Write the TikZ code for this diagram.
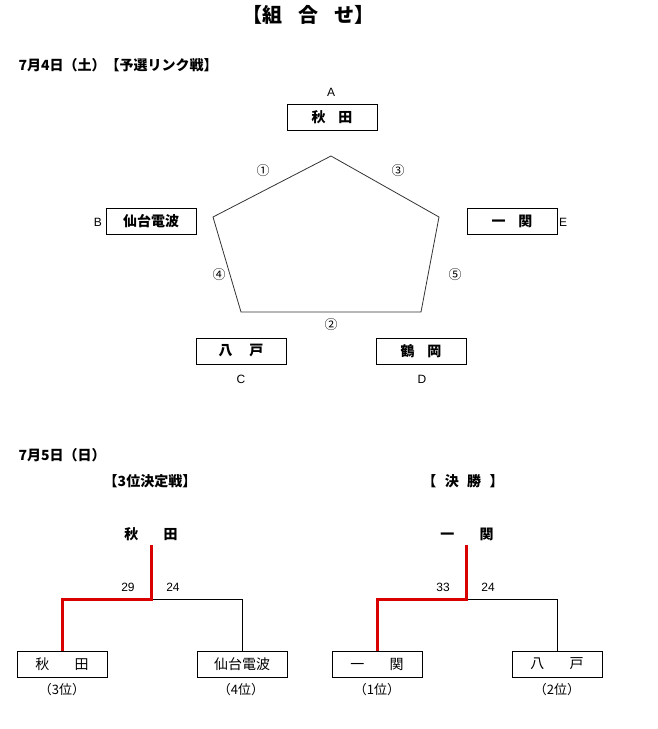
\documentclass[tikz,border=0pt]{standalone}
\usepackage{fontspec}
\setmainfont{Noto Sans CJK JP}
\newfontfamily\latin{Liberation Sans}
\begin{document}
\begin{tikzpicture}[
  x=1pt, y=-1pt,
  line width=1pt,
  every node/.style = {inner sep=0pt, align=center},
  teambox/.style = {draw, minimum width=90pt, minimum height=26pt,
    font=\fontsize{14}{14}\selectfont\bfseries},
  plainbox/.style = {draw, minimum width=90pt, minimum height=26pt,
    font=\fontsize{14}{14}\selectfont},
  letter/.style = {font=\latin\fontsize{12}{12}\selectfont},
  game/.style = {font=\fontsize{13}{13}\selectfont},
  score/.style = {font=\latin\fontsize{12}{12}\selectfont},
  rank/.style = {font=\fontsize{13}{13}\selectfont},
  heading/.style = {font=\fontsize{14}{14}\selectfont\bfseries},
  winline/.style = {draw=red!85!black, line width=3pt}]
  \useasboundingbox (0,0) rectangle (658,729);
  \node[font=\fontsize{20}{20}\selectfont\bfseries] (title) at (308,15) {【組\hspace{0.8em}合\hspace{0.8em}せ】};
  \node[heading, anchor=west] (day1) at (18,65) {7月4日（土）【予選リンク戦】};
  \node[teambox] (akita) at (332,117) {秋\hspace{0.9em}田};
  \node[teambox] (sendai) at (151,221) {仙台電波};
  \node[teambox] (ichinoseki) at (512,221) {一\hspace{0.9em}関};
  \node[teambox] (hachinohe) at (241,351) {八\hspace{1.2em}戸};
  \node[teambox] (tsuruoka) at (421,351) {鶴\hspace{0.9em}岡};
  \node[letter] (la) at (331,92) {A};
  \node[letter] (lb) at (98,222) {B};
  \node[letter] (le) at (563,222) {E};
  \node[letter] (lc) at (241,379) {C};
  \node[letter] (ld) at (422,379) {D};
  \coordinate (pa) at (331,156);
  \coordinate (pb) at (213,217);
  \coordinate (pe) at (439,217);
  \coordinate (pc) at (241,312);
  \coordinate (pd) at (421,312);
  \draw[line width=0.8pt, black!80] (pa) -- (pe) -- (pd) -- (pc) -- (pb) -- cycle;
  \node[game] (g1) at (263,171) {①};
  \node[game] (g2) at (331,325) {②};
  \node[game] (g3) at (398,171) {③};
  \node[game] (g4) at (219,275) {④};
  \node[game] (g5) at (455,275) {⑤};
  \node[heading, anchor=west] (day2) at (18,455) {7月5日（日）};
  \node[heading] (third) at (150,481) {【3位決定戦】};
  \node[heading] (final) at (463,481) {【\hspace{0.6em}決\hspace{0.6em}勝\hspace{0.6em}】};
  \node[heading] (thirdwin) at (151,534) {秋\hspace{1.8em}田};
  \node[plainbox] (thirdl) at (62,664) {秋\hspace{1.8em}田};
  \node[plainbox] (thirdr) at (242,664) {仙台電波};
  \node[rank] (rank3) at (62,690) {（3位）};
  \node[rank] (rank4) at (241,690) {（4位）};
  \coordinate (thirdj) at (151,599);
  \node[score] (s29) at (128,587) {29};
  \node[score] (s24a) at (173,587) {24};
  \draw (thirdj) -| (thirdr.north);
  \draw[winline] (thirdwin.south) ++(0,4) -- (thirdj) -| (thirdl.north);
  \node[heading] (finalwin) at (467,534) {一\hspace{1.8em}関};
  \node[plainbox] (finall) at (377,664) {一\hspace{1.8em}関};
  \node[plainbox] (finalr) at (557,664) {八\hspace{1.8em}戸};
  \node[rank] (rank1) at (377,690) {（1位）};
  \node[rank] (rank2) at (557,690) {（2位）};
  \coordinate (finalj) at (466,599);
  \node[score] (s33) at (443,587) {33};
  \node[score] (s24b) at (488,587) {24};
  \draw (finalj) -| (finalr.north);
  \draw[winline] (finalwin.south) ++(-1,4) -- (finalj) -| (finall.north);
\end{tikzpicture}
\end{document}
